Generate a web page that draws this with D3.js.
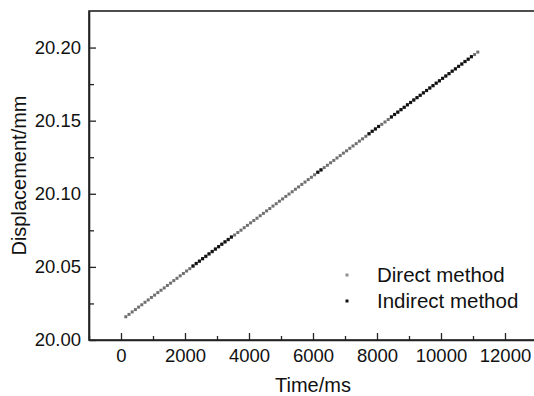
<!DOCTYPE html>
<html>
<head>
<meta charset="utf-8">
<script src="https://cdn.jsdelivr.net/npm/d3@7"></script>
<style>
  html, body { margin: 0; padding: 0; background: #fff; }
  svg { display: block; font-family: "Liberation Sans", Arial, sans-serif; }
</style>
</head>
<body>
<div id="chart"></div>
<script>
// time stamps (ms) of the samples
const times = [
  150, 250, 350, 450, 550, 650, 750, 850, 950, 1050,
  1150, 1250, 1350, 1450, 1550, 1650, 1750, 1850, 1950, 2050,
  2150, 2250, 2350, 2450, 2550, 2650, 2750, 2850, 2950, 3050,
  3150, 3250, 3350, 3450, 3550, 3650, 3750, 3850, 3950, 4050,
  4150, 4250, 4350, 4450, 4550, 4650, 4750, 4850, 4950, 5050,
  5150, 5250, 5350, 5450, 5550, 5650, 5750, 5850, 5950, 6050,
  6150, 6250, 6350, 6450, 6550, 6650, 6750, 6850, 6950, 7050,
  7150, 7250, 7350, 7450, 7550, 7650, 7750, 7850, 7950, 8050,
  8150, 8250, 8350, 8450, 8550, 8650, 8750, 8850, 8950, 9050,
  9150, 9250, 9350, 9450, 9550, 9650, 9750, 9850, 9950, 10050,
  10150, 10250, 10350, 10450, 10550, 10650, 10750, 10850, 10950, 11050,
  11150
];

// Direct method displacement (mm)
const directValues = [
  20.0159, 20.0175, 20.0192, 20.0208, 20.0225, 20.0241, 20.0258, 20.0274, 20.0291, 20.0307,
  20.0324, 20.0340, 20.0356, 20.0373, 20.0389, 20.0406, 20.0422, 20.0439, 20.0455, 20.0472,
  20.0488, 20.0504, 20.0521, 20.0537, 20.0554, 20.0570, 20.0587, 20.0603, 20.0620, 20.0636,
  20.0653, 20.0669, 20.0685, 20.0702, 20.0718, 20.0735, 20.0751, 20.0768, 20.0784, 20.0801,
  20.0817, 20.0833, 20.0850, 20.0866, 20.0883, 20.0899, 20.0916, 20.0932, 20.0949, 20.0965,
  20.0982, 20.0998, 20.1014, 20.1031, 20.1047, 20.1064, 20.1080, 20.1097, 20.1113, 20.1130,
  20.1146, 20.1162, 20.1179, 20.1195, 20.1212, 20.1228, 20.1245, 20.1261, 20.1278, 20.1294,
  20.1311, 20.1327, 20.1343, 20.1360, 20.1376, 20.1393, 20.1409, 20.1426, 20.1442, 20.1459,
  20.1475, 20.1491, 20.1508, 20.1524, 20.1541, 20.1557, 20.1574, 20.1590, 20.1607, 20.1623,
  20.1640, 20.1656, 20.1672, 20.1689, 20.1705, 20.1722, 20.1738, 20.1755, 20.1771, 20.1788,
  20.1804, 20.1820, 20.1837, 20.1853, 20.1870, 20.1886, 20.1903, 20.1919, 20.1936, 20.1952,
  20.1969
];

// Indirect method: time stamps and displacement (mm)
const indirectTimes = [
  2250, 2350, 2450, 2550, 2650, 2750, 2850, 2950, 3050, 3150, 3250, 3350, 3450,
  6150, 6250,
  7750, 7850, 7950, 8050,
  8450, 8550, 8650, 8750, 8850, 8950, 9050, 9150, 9250, 9350, 9450, 9550, 9650,
  9750, 9850, 9950, 10050, 10150, 10250, 10350, 10450, 10550, 10650, 10750, 10850, 10950
];
const indirectValues = [
  20.0507, 20.0524, 20.0540, 20.0557, 20.0573, 20.0590, 20.0606, 20.0623, 20.0639, 20.0656, 20.0672, 20.0688, 20.0705,
  20.1148, 20.1164,
  20.1411, 20.1428, 20.1444, 20.1461,
  20.1526, 20.1543, 20.1559, 20.1576, 20.1592, 20.1609, 20.1625, 20.1642, 20.1658, 20.1674, 20.1691, 20.1707, 20.1724,
  20.1740, 20.1757, 20.1773, 20.1790, 20.1806, 20.1822, 20.1839, 20.1855, 20.1872, 20.1888, 20.1905, 20.1921, 20.1938
];

const xTicks = [0, 2000, 4000, 6000, 8000, 10000, 12000];
const xMinorTicks = [-1000, 1000, 3000, 5000, 7000, 9000, 11000];
const yTicks = [20.00, 20.05, 20.10, 20.15, 20.20];
const yMinorTicks = [20.025, 20.075, 20.125, 20.175];

const width = 534;
const height = 396;
const margin = { top: 11, right: -3, bottom: 56, left: 89 };

const svg = d3.select('#chart').append('svg')
    .attr('width', width)
    .attr('height', height);

const x = d3.scaleLinear()
    .domain([-1000, 13000])
    .range([margin.left, width - margin.right]);

const y = d3.scaleLinear()
    .domain([20.00, 20.225])
    .range([height - margin.bottom, margin.top]);

// frame
svg.append('rect')
    .attr('x', x(-1000))
    .attr('y', y(20.225))
    .attr('width', x(13000) - x(-1000))
    .attr('height', y(20.00) - y(20.225))
    .attr('fill', 'none')
    .attr('stroke', '#222')
    .attr('stroke-width', 1.6);

// x axis
svg.append('g')
    .attr('transform', `translate(0,${y(20.00)})`)
    .call(d3.axisBottom(x)
        .tickValues(xTicks)
        .tickSizeInner(-7)
        .tickSizeOuter(0)
        .tickPadding(9)
        .tickFormat(d3.format('d')));

svg.append('g')
    .attr('transform', `translate(0,${y(20.00)})`)
    .call(d3.axisBottom(x)
        .tickValues(xMinorTicks)
        .tickSizeInner(-4)
        .tickSizeOuter(0)
        .tickFormat(''))
    .select('.domain').remove();

// y axis
svg.append('g')
    .attr('transform', `translate(${x(-1000)},0)`)
    .call(d3.axisLeft(y)
        .tickValues(yTicks)
        .tickSizeInner(-7)
        .tickSizeOuter(0)
        .tickPadding(8)
        .tickFormat(d3.format('.2f')));

svg.append('g')
    .attr('transform', `translate(${x(-1000)},0)`)
    .call(d3.axisLeft(y)
        .tickValues(yMinorTicks)
        .tickSizeInner(-5)
        .tickSizeOuter(0)
        .tickFormat(''))
    .select('.domain').remove();

svg.selectAll('.domain').attr('stroke', '#222').attr('stroke-width', 1.6);
svg.selectAll('.tick line').attr('stroke', '#222').attr('stroke-width', 1.3);
svg.selectAll('.tick text')
    .attr('font-family', '"Liberation Sans", Arial, sans-serif')
    .attr('font-size', 18.5)
    .attr('fill', '#111');

// axis titles
svg.append('text')
    .attr('x', (x(-1000) + x(13000)) / 2)
    .attr('y', 392)
    .attr('text-anchor', 'middle')
    .attr('font-size', 20)
    .attr('fill', '#111')
    .text('Time/ms');

svg.append('text')
    .attr('transform', `translate(26,${(y(20.00) + y(20.225)) / 2}) rotate(-90)`)
    .attr('text-anchor', 'middle')
    .attr('font-size', 20)
    .attr('fill', '#111')
    .text('Displacement/mm');

// points
const markSize = 3;
const direct = times.map((t, i) => ({ t, v: directValues[i] }));
const indirect = indirectTimes.map((t, i) => ({ t, v: indirectValues[i] }));

svg.append('g').selectAll('rect')
    .data(direct)
    .join('rect')
    .attr('x', d => x(d.t) - markSize / 2)
    .attr('y', d => y(d.v) - markSize / 2)
    .attr('width', markSize)
    .attr('height', markSize)
    .attr('fill', '#707070');

svg.append('g').selectAll('rect')
    .data(indirect)
    .join('rect')
    .attr('x', d => x(d.t) - markSize / 2)
    .attr('y', d => y(d.v) - markSize / 2)
    .attr('width', markSize)
    .attr('height', markSize)
    .attr('fill', '#111');

// legend
const legendItems = [
    { label: 'Direct method', color: '#909090' },
    { label: 'Indirect method', color: '#111' }
];
const legend = svg.append('g').attr('transform', 'translate(347,275)');
legendItems.forEach((item, i) => {
    const g = legend.append('g').attr('transform', `translate(0,${i * 26})`);
    g.append('rect')
        .attr('x', -1.5).attr('y', -1.5)
        .attr('width', 3).attr('height', 3)
        .attr('fill', item.color);
    g.append('text')
        .attr('x', 30)
        .attr('y', 7)
        .attr('font-size', 20.5)
        .attr('fill', '#111')
        .text(item.label);
});
</script>
</body>
</html>
